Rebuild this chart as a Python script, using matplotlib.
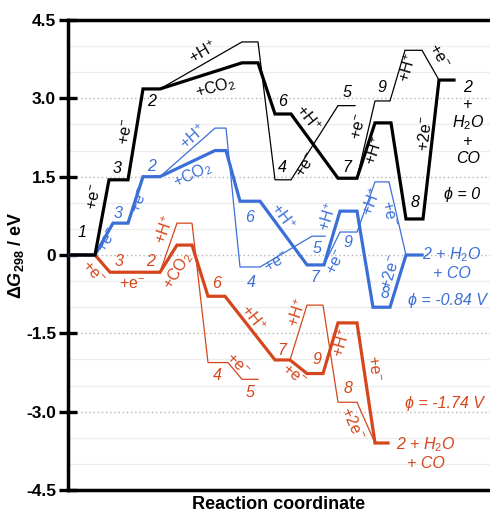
import numpy as np
import matplotlib
matplotlib.use('Agg')
import matplotlib.pyplot as plt

plt.rcParams['font.family'] = ['Liberation Sans', 'DejaVu Sans']
plt.rcParams['mathtext.fontset'] = 'custom'
plt.rcParams['mathtext.rm'] = 'Liberation Sans'
plt.rcParams['mathtext.it'] = 'Liberation Sans:italic'
plt.rcParams['mathtext.bf'] = 'Liberation Sans:bold'
plt.rcParams['mathtext.bfit'] = 'Liberation Sans:bold:italic'

# --- Datos: niveles (x inicio, x fin, energia / eV) ---
# camino phi = 0 (negro)
negro_x0 = [70, 109, 143, 242, 275, 338, 375, 406, 439]
negro_x1 = [95, 128, 160, 258, 291, 357, 391, 423, 454]
negro_E = [0.0, 1.44, 3.18, 3.68, 2.70, 1.47, 2.53, 0.69, 3.35]
negro_a_x0 = [160, 242, 275, 338]
negro_a_x1 = [160, 258, 291, 355]
negro_a_E = [3.18, 4.08, 1.44, 2.86]
negro_b_x0 = [357, 375, 405, 439]
negro_b_x1 = [357, 390, 422, 439]
negro_b_E = [1.47, 2.95, 3.92, 3.35]

# camino phi = -0.84 V (azul)
azul_x0 = [70, 113, 143, 215, 240, 307, 340, 373, 406]
azul_x1 = [95, 128, 160, 226, 260, 324, 357, 390, 422]
azul_E = [0.0, 0.61, 1.50, 2.00, 1.03, -0.19, 0.84, -1.00, 0.0]
azul_a_x0 = [160, 215, 240, 312]
azul_a_x1 = [160, 226, 260, 325]
azul_a_E = [1.50, 2.43, -0.23, 0.36]
azul_b_x0 = [324, 340, 375, 406]
azul_b_x1 = [324, 357, 389, 406]
azul_b_E = [-0.19, 0.44, 1.40, 0.0]

# camino phi = -1.74 V (rojo)
rojo_x0 = [70, 110, 143, 177, 208, 275, 307, 338, 375]
rojo_x1 = [95, 128, 160, 192, 225, 290, 323, 357, 388]
rojo_E = [0.0, -0.33, -0.33, 0.19, -0.79, -2.01, -2.27, -1.30, -3.60]
rojo_a_x0 = [160, 177, 208, 242]
rojo_a_x1 = [160, 192, 228, 258]
rojo_a_E = [-0.33, 0.61, -2.06, -2.38]
rojo_b_x0 = [290, 307, 338, 375]
rojo_b_x1 = [290, 323, 357, 375]
rojo_b_E = [-2.01, -0.96, -2.82, -3.60]

NEGRO = 'black'
AZUL = '#3b6fd8'
ROJO = '#d6461c'


def camino(x0, x1, E):
    xs, ys = [], []
    for a, b, e in zip(x0, x1, E):
        xs += [a, b]
        ys += [e, e]
    return xs, ys


fig = plt.figure(figsize=(4.9, 5.17), dpi=100)
ax = fig.add_axes([68 / 490, 1 - 490 / 517, 1 - 68 / 490, 470 / 517])

# --- lineas finas y gruesas ---
for (x0, x1, E), color in [((rojo_a_x0, rojo_a_x1, rojo_a_E), ROJO),
                           ((rojo_b_x0, rojo_b_x1, rojo_b_E), ROJO),
                           ((azul_a_x0, azul_a_x1, azul_a_E), AZUL),
                           ((azul_b_x0, azul_b_x1, azul_b_E), AZUL),
                           ((negro_a_x0, negro_a_x1, negro_a_E), NEGRO),
                           ((negro_b_x0, negro_b_x1, negro_b_E), NEGRO)]:
    xs, ys = camino(x0, x1, E)
    ax.plot(xs, ys, color=color, lw=0.9, solid_joinstyle='miter', zorder=3)

for (x0, x1, E), color in [((rojo_x0, rojo_x1, rojo_E), ROJO),
                           ((azul_x0, azul_x1, azul_E), AZUL),
                           ((negro_x0, negro_x1, negro_E), NEGRO)]:
    xs, ys = camino(x0, x1, E)
    ax.plot(xs, ys, color=color, lw=2.3, solid_joinstyle='miter', zorder=4)

# --- etiquetas (texto, x, y, rotacion, italica) ---
etiquetas_negro = [
    ('1', 82, 0.44, 0, True), ('+e$^{-}$', 95, 1.11, 79, False),
    ('3', 117, 1.65, 0, True), ('+e$^{-}$', 127, 2.36, 80, False),
    ('2', 152, 2.93, 0, True), ('+H$^{+}$', 203, 3.87, 30, False),
    ('+CO$_2$', 215, 3.20, 15, False), ('6', 283, 2.93, 0, True),
    ('+H$^{+}$', 308, 2.62, -52, False), ('4', 282, 1.67, 0, True),
    ('+e$^{-}$', 307, 1.72, 57, False), ('5', 347, 3.12, 0, True),
    ('7', 347, 1.67, 0, True), ('+e$^{-}$', 360, 2.45, 77, False),
    ('9', 382, 3.20, 0, True), ('+H$^{+}$', 375, 2.00, 72, False),
    ('+H$^{+}$', 408, 3.58, 74, False), ('+e$^{-}$', 438, 3.80, -60, False),
    ('+2e$^{-}$', 425, 2.33, 83, False), ('8', 415, 1.00, 0, True),
    ('2\n+\nH$_2$O\n+\nCO', 468, 2.53, 0, True), ('ϕ = 0', 462, 1.15, 0, True),
]
etiquetas_azul = [
    ('+e$^{-}$', 108, 0.29, 60, False), ('3', 118, 0.80, 0, True),
    ('+e$^{-}$', 140, 1.05, 70, False), ('2', 152, 1.69, 0, True),
    ('+H$^{+}$', 193, 2.26, 41, False), ('+CO$_2$', 193, 1.53, 25, False),
    ('6', 250, 0.71, 0, True), ('+H$^{+}$', 282, 0.73, -54, False),
    ('4', 251, -0.52, 0, True), ('+e$^{-}$', 277, -0.15, 31, False),
    ('5', 317, 0.13, 0, True), ('7', 315, -0.44, 0, True),
    ('+H$^{+}$', 328, 0.73, 73, False), ('+e$^{-}$', 337, -0.13, 64, False),
    ('9', 348, 0.23, 0, True), ('+H$^{+}$', 372, 1.02, 70, False),
    ('+e$^{-}$', 388, 0.80, -77, False), ('+2e$^{-}$', 390, -0.33, 73, False),
    ('8', 385, -0.73, 0, True), ('2 + H$_2$O\n+ CO', 452, -0.15, 0, True),
    ('ϕ = -0.84 V', 447, -0.88, 0, True),
]
etiquetas_rojo = [
    ('+e$^{-}$', 93, -0.34, -49, False), ('3', 119, -0.13, 0, True),
    ('2', 151, -0.13, 0, True), ('+e$^{-}$', 132, -0.57, 0, False),
    ('+H$^{+}$', 165, 0.48, 71, False), ('+CO$_2$', 178, -0.29, 58, False),
    ('6', 217, -0.54, 0, True), ('+H$^{+}$', 253, -1.20, -52, False),
    ('4', 217, -2.30, 0, True), ('+e$^{-}$', 237, -2.10, -45, False),
    ('5', 250, -2.64, 0, True), ('7', 282, -1.82, 0, True),
    ('+e$^{-}$', 293, -2.30, -39, False), ('9', 317, -2.00, 0, True),
    ('+H$^{+}$', 298, -1.11, 72, False), ('+H$^{+}$', 342, -1.69, 74, False),
    ('8', 348, -2.55, 0, True), ('+e$^{-}$', 373, -2.17, -82, False),
    ('+2e$^{-}$', 353, -3.22, -66, False), ('ϕ = -1.74 V', 444, -2.84, 0, True),
    ('2 + H$_2$O\n+ CO', 426, -3.80, 0, True),
]
for etiquetas, color in [(etiquetas_negro, NEGRO), (etiquetas_azul, AZUL),
                         (etiquetas_rojo, ROJO)]:
    for txt, x, y, rot, it in etiquetas:
        ax.text(x, y, txt, color=color, rotation=rot, ha='center', va='center',
                fontsize=11.5, style='italic' if it else 'normal',
                multialignment='center', linespacing=1.15,
                rotation_mode='anchor', zorder=5)

# --- ejes ---
ax.set_xlim(68, 490)
ax.set_ylim(-4.5, 4.5)
ax.set_xticks([])
ax.set_yticks(np.arange(-4.5, 4.6, 1.5))
ax.set_yticklabels(['-4.5', '-3.0', '-1.5', '0', '1.5', '3.0', '4.5'],
                   fontweight='bold', fontsize=12.5)
ax.set_yticks(np.arange(-4.5, 4.6, 0.5), minor=True)
ax.tick_params(axis='y', which='major', direction='inout', length=13, width=2.4, pad=2)
ax.tick_params(axis='y', which='minor', length=0)
ax.grid(axis='y', which='major', color='#b5b5b5', lw=1.0, linestyle=(0, (1, 2)))
ax.grid(axis='y', which='minor', color='#ececec', lw=0.9)
ax.spines['right'].set_visible(False)
for s in ['left', 'top', 'bottom']:
    ax.spines[s].set_linewidth(2.5)
ax.set_xlabel('Reaction coordinate', fontweight='bold', fontsize=13, labelpad=4)
ax.set_ylabel(r'$\mathbf{\Delta}\mathbfit{G}_{\mathbf{298}}$ / eV', fontweight='bold',
              fontsize=13, labelpad=0)

fig.savefig('out.png', dpi=100)
